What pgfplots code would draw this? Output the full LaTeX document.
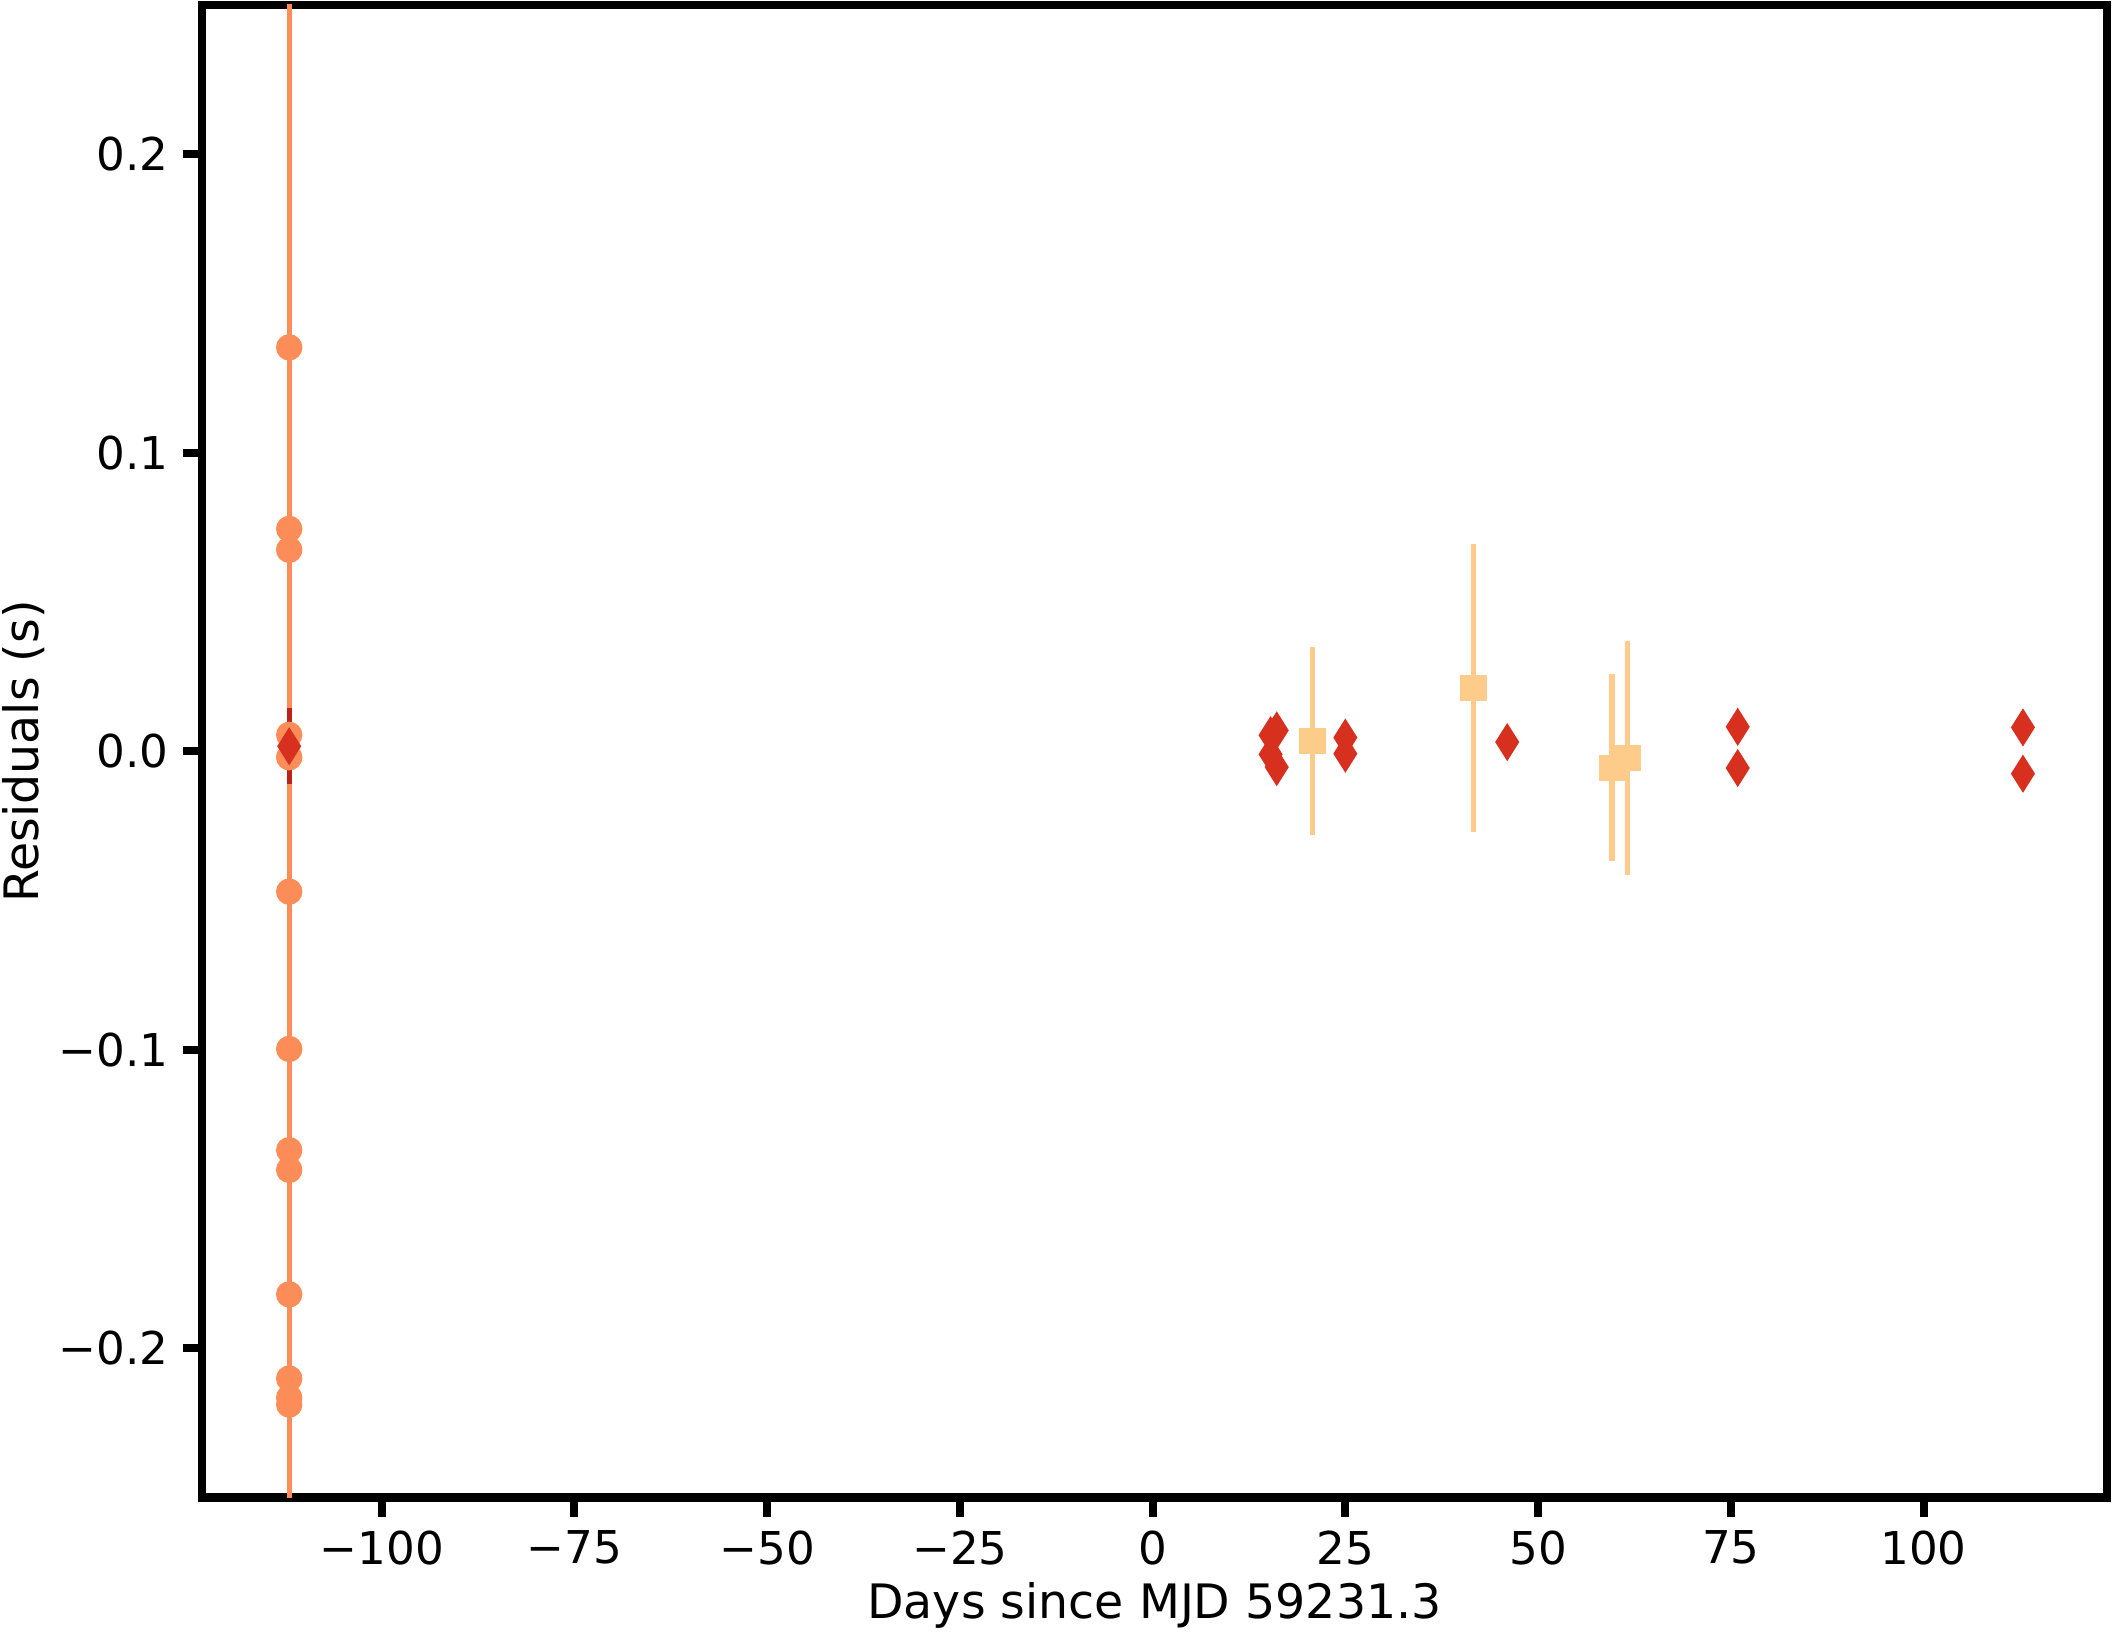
\documentclass[border=0pt]{standalone}
\usepackage{pgfplots}
\pgfplotsset{compat=1.18}
\usepackage{fontspec}
\setmainfont{DejaVu Sans}

\definecolor{cOrange}{HTML}{FC8D59}
\definecolor{cPale}{HTML}{FDCC8A}
\definecolor{cRed}{HTML}{D7301F}
\definecolor{cDark}{HTML}{BD2417}

\newcommand{\lbl}{\fontsize{11.3}{13.6}\selectfont}
\newcommand{\axlbl}{\fontsize{11.85}{14.2}\selectfont}

\begin{document}
\begin{tikzpicture}
    \begin{axis}[
        scale only axis,
        width=476pt,
        height=373pt,
        xmin=-123.3, xmax=123.8,
        ymin=-0.25, ymax=0.25,
        xtick={-100,-75,-50,-25,0,25,50,75,100},
        xticklabels={−100,−75,−50,−25,0,25,50,75,100},
        ytick={-0.2,-0.1,0,0.1,0.2},
        yticklabels={−0.2,−0.1,0.0,0.1,0.2},
        xtick pos=left,
        ytick pos=left,
        tick align=outside,
        major tick length=4.8pt,
        every tick/.style={black, line width=2pt},
        axis line style={line width=2.2pt},
        tick label style={font=\lbl},
        xlabel={Days since MJD 59231.3},
        ylabel={Residuals (s)},
        every axis x label/.style={at={(axis description cs:0.5,-0.0811)}, anchor=base, font=\axlbl},
        every axis y label/.style={at={(axis description cs:-0.0935,0.5)}, rotate=90, anchor=center, font=\axlbl},
        error bars/error mark=none,
    ]
        \coordinate (O) at (rel axis cs:0,0);
        \coordinate (T) at (rel axis cs:1,1);

        % orange circles with very large errors
        \addplot[
            only marks, mark=*, mark size=3.1pt, color=cOrange,
            mark options={draw=none, fill=cOrange},
            error bars/.cd, y dir=both, y explicit,
            error bar style={line width=1.35pt, color=cOrange},
        ] coordinates {
            (-112.0, 0.1353) +- (0,0.4)
            (-112.0, 0.0745) +- (0,0.4)
            (-112.0, 0.0675) +- (0,0.4)
            (-112.0, 0.0055) +- (0,0.4)
            (-112.0,-0.0020) +- (0,0.4)
            (-112.0,-0.0470) +- (0,0.4)
            (-112.0,-0.0997) +- (0,0.4)
            (-112.0,-0.1336) +- (0,0.4)
            (-112.0,-0.1402) +- (0,0.4)
            (-112.0,-0.1819) +- (0,0.4)
            (-112.0,-0.2101) +- (0,0.4)
            (-112.0,-0.2165) +- (0,0.4)
            (-112.0,-0.2188) +- (0,0.4)
        };

        % pale squares
        \addplot[
            only marks, mark=square*, mark size=3.1pt, color=cPale,
            mark options={draw=none, fill=cPale},
            error bars/.cd, y dir=both, y explicit,
            error bar style={line width=1.35pt, color=cPale},
        ] coordinates {
            (20.75, 0.0035) +- (0,0.0316)
            (41.6,  0.0212) +- (0,0.0483)
            (59.6, -0.0055) +- (0,0.0314)
            (61.6, -0.0022) +- (0,0.0393)
        };

        % red thin diamonds
        \addplot[
            only marks, mark=diamond*, mark size=4.4pt, color=cRed,
            mark options={draw=none, fill=cRed, xscale=0.84},
            error bars/.cd, y dir=both, y explicit,
            error bar style={line width=1.35pt, color=cDark},
        ] coordinates {
            (-112.0, 0.0017) +- (0,0.0128)
            (15.3,  0.0054) +- (0,0.001)
            (16.1,  0.0070) +- (0,0.001)
            (15.3, -0.0010) +- (0,0.001)
            (16.1, -0.0053) +- (0,0.001)
            (25.0,  0.0046) +- (0,0.001)
            (25.0, -0.0008) +- (0,0.001)
            (46.0,  0.0031) +- (0,0.001)
            (75.9,  0.0082) +- (0,0.001)
            (75.9, -0.0056) +- (0,0.001)
            (112.9, 0.0080) +- (0,0.001)
            (112.9,-0.0075) +- (0,0.001)
        };
    \end{axis}
    \pgfresetboundingbox
    \path[use as bounding box] ([xshift=-50.5pt,yshift=-33.5pt]O) rectangle ([xshift=1.75pt,yshift=1.25pt]T);
\end{tikzpicture}
\end{document}
